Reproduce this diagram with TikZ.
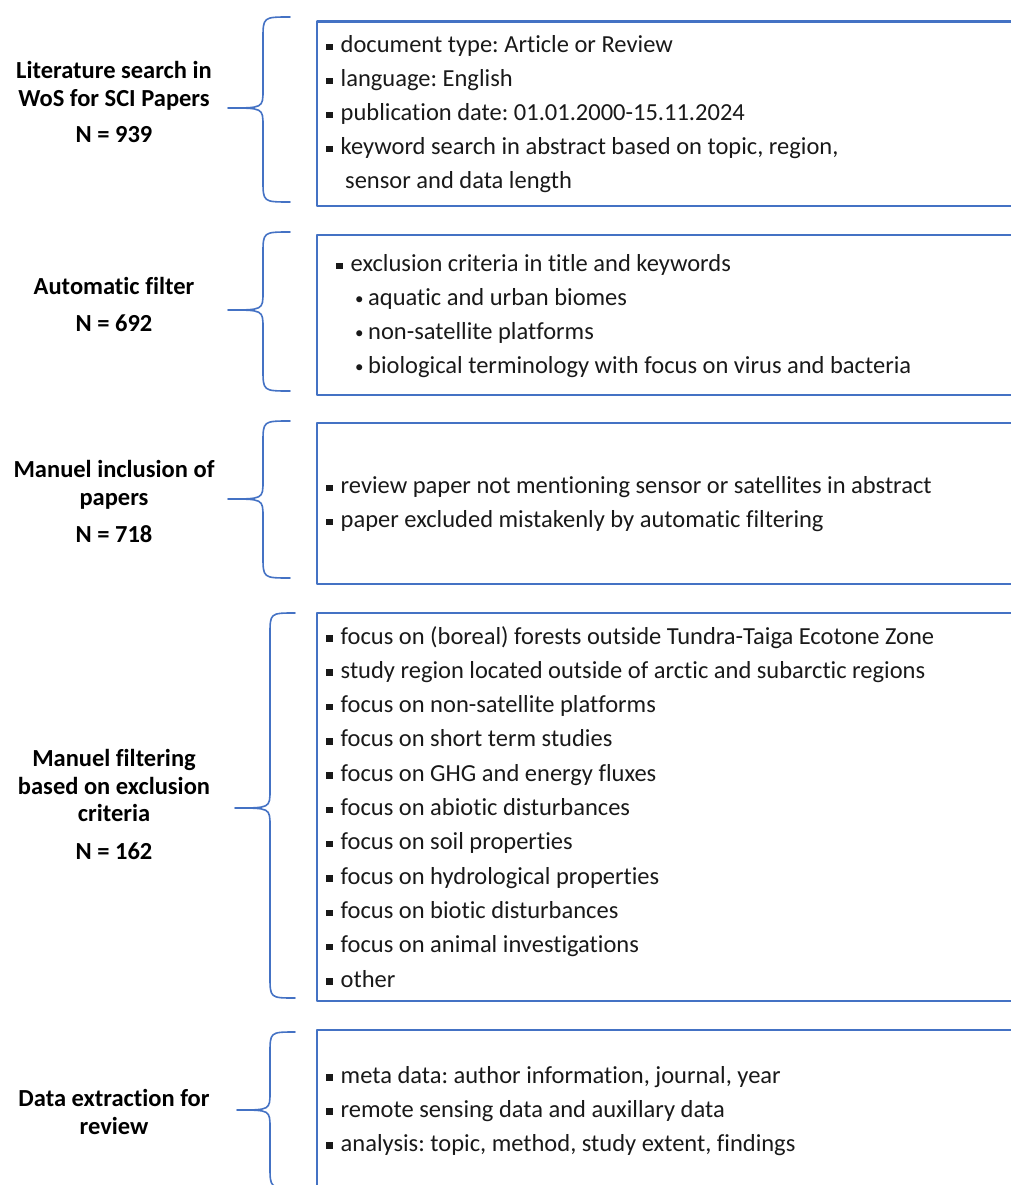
\documentclass[tikz,border=0pt]{standalone}
\usepackage{fontspec}
\setmainfont[Ligatures=NoCommon]{Carlito}
\definecolor{boxblue}{RGB}{68,114,196}
\definecolor{inktext}{RGB}{25,25,25}
\newcommand{\itemsq}{\rule[2.4pt]{6.5pt}{6.5pt}\hspace{8pt}}
\newcommand{\itemdot}{\hspace*{19pt}\makebox[13pt][l]{\fontsize{17}{17}\selectfont\raisebox{1.5pt}{•}}}
\frenchspacing

\begin{document}
\begin{tikzpicture}[x=1pt,y=-1pt,line cap=round,line join=round,
  stage/.style={font={\fontsize{24.5}{27.7}\selectfont\bfseries},align=center,inner sep=0,anchor=base},
  items/.style={font={\fontsize{24.5}{34}\selectfont},align=left,inner sep=0,anchor=base west,text=inktext},
  listbox/.style={draw=boxblue,line width=2.2pt,anchor=north west,minimum width=720,minimum height=#1,inner sep=0},
  brace/.style={draw=boxblue,line width=1.6pt}]
  \useasboundingbox (0,0) rectangle (1011,1185);
  \clip (0,0) rectangle (1011,1185);

  % stages on the left (placed by their last line)
  \node[stage] (search) at (114,143) {Literature search in\\WoS for SCI Papers\\[8.6pt]N = 939};
  \node[stage] (autofilter) at (114,331) {Automatic filter\\[9.3pt]N = 692};
  \node[stage] (inclusion) at (114,542) {Manuel inclusion of\\papers\\[9pt]N = 718};
  \node[stage] (filtering) at (114,859) {Manuel filtering\\based on exclusion\\criteria\\[9.5pt]N = 162};
  \node[stage] (extraction) at (114,1134) {Data extraction for\\review};

  % curly brackets
  \foreach \xt/\xv/\xe/\yt/\ym/\yb in {228/263/290/17/108/202,228/263/290/232/310/391,228/263/290/421/499/578,235/270/295/613/808/998,237/270/295/1032/1110/1188}
    \draw[brace] (\xe,\yt) .. controls (\xv,\yt) .. (\xv,\yt+22) -- (\xv,\ym-18)
      .. controls (\xv,\ym) .. (\xt,\ym) .. controls (\xv,\ym) .. (\xv,\ym+18)
      -- (\xv,\yb-22) .. controls (\xv,\yb) .. (\xe,\yb);

  % criteria boxes
  \node[listbox=184] (box1) at (316,20.5) {};
  \node[listbox=160] (box2) at (316,234) {};
  \node[listbox=161] (box3) at (316,422) {};
  \node[listbox=388] (box4) at (316,612) {};
  \node[listbox=200] (box5) at (316,1029) {};

  \node[items] (list1) at (326,188.5) {\itemsq document type: Article or Review\\
    \itemsq language: English\\
    \itemsq publication date: 01.01.2000-15.11.2024\\
    \itemsq keyword search in abstract based on topic, region,\\
    \hspace*{19pt}sensor and data length};
  \node[items] (list2) at (336,373.5) {\itemsq exclusion criteria in title and keywords\\
    \itemdot aquatic and urban biomes\\
    \itemdot non-satellite platforms\\
    \itemdot biological terminology with focus on virus and bacteria};
  \node[items] (list3) at (326,527.5) {\itemsq review paper not mentioning sensor or satellites in abstract\\
    \itemsq paper excluded mistakenly by automatic filtering};
  \node[items,font={\fontsize{24.5}{34.3}\selectfont}] (list4) at (326,987) {\itemsq focus on (boreal) forests outside Tundra-Taiga Ecotone Zone\\
    \itemsq study region located outside of arctic and subarctic regions\\
    \itemsq focus on non-satellite platforms\\
    \itemsq focus on short term studies\\
    \itemsq focus on GHG and energy fluxes\\
    \itemsq focus on abiotic disturbances\\
    \itemsq focus on soil properties\\
    \itemsq focus on hydrological properties\\
    \itemsq focus on biotic disturbances\\
    \itemsq focus on animal investigations\\
    \itemsq other};
  \node[items] (list5) at (326,1151) {\itemsq meta data: author information, journal, year\\
    \itemsq remote sensing data and auxillary data\\
    \itemsq analysis: topic, method, study extent, findings};
\end{tikzpicture}
\end{document}
